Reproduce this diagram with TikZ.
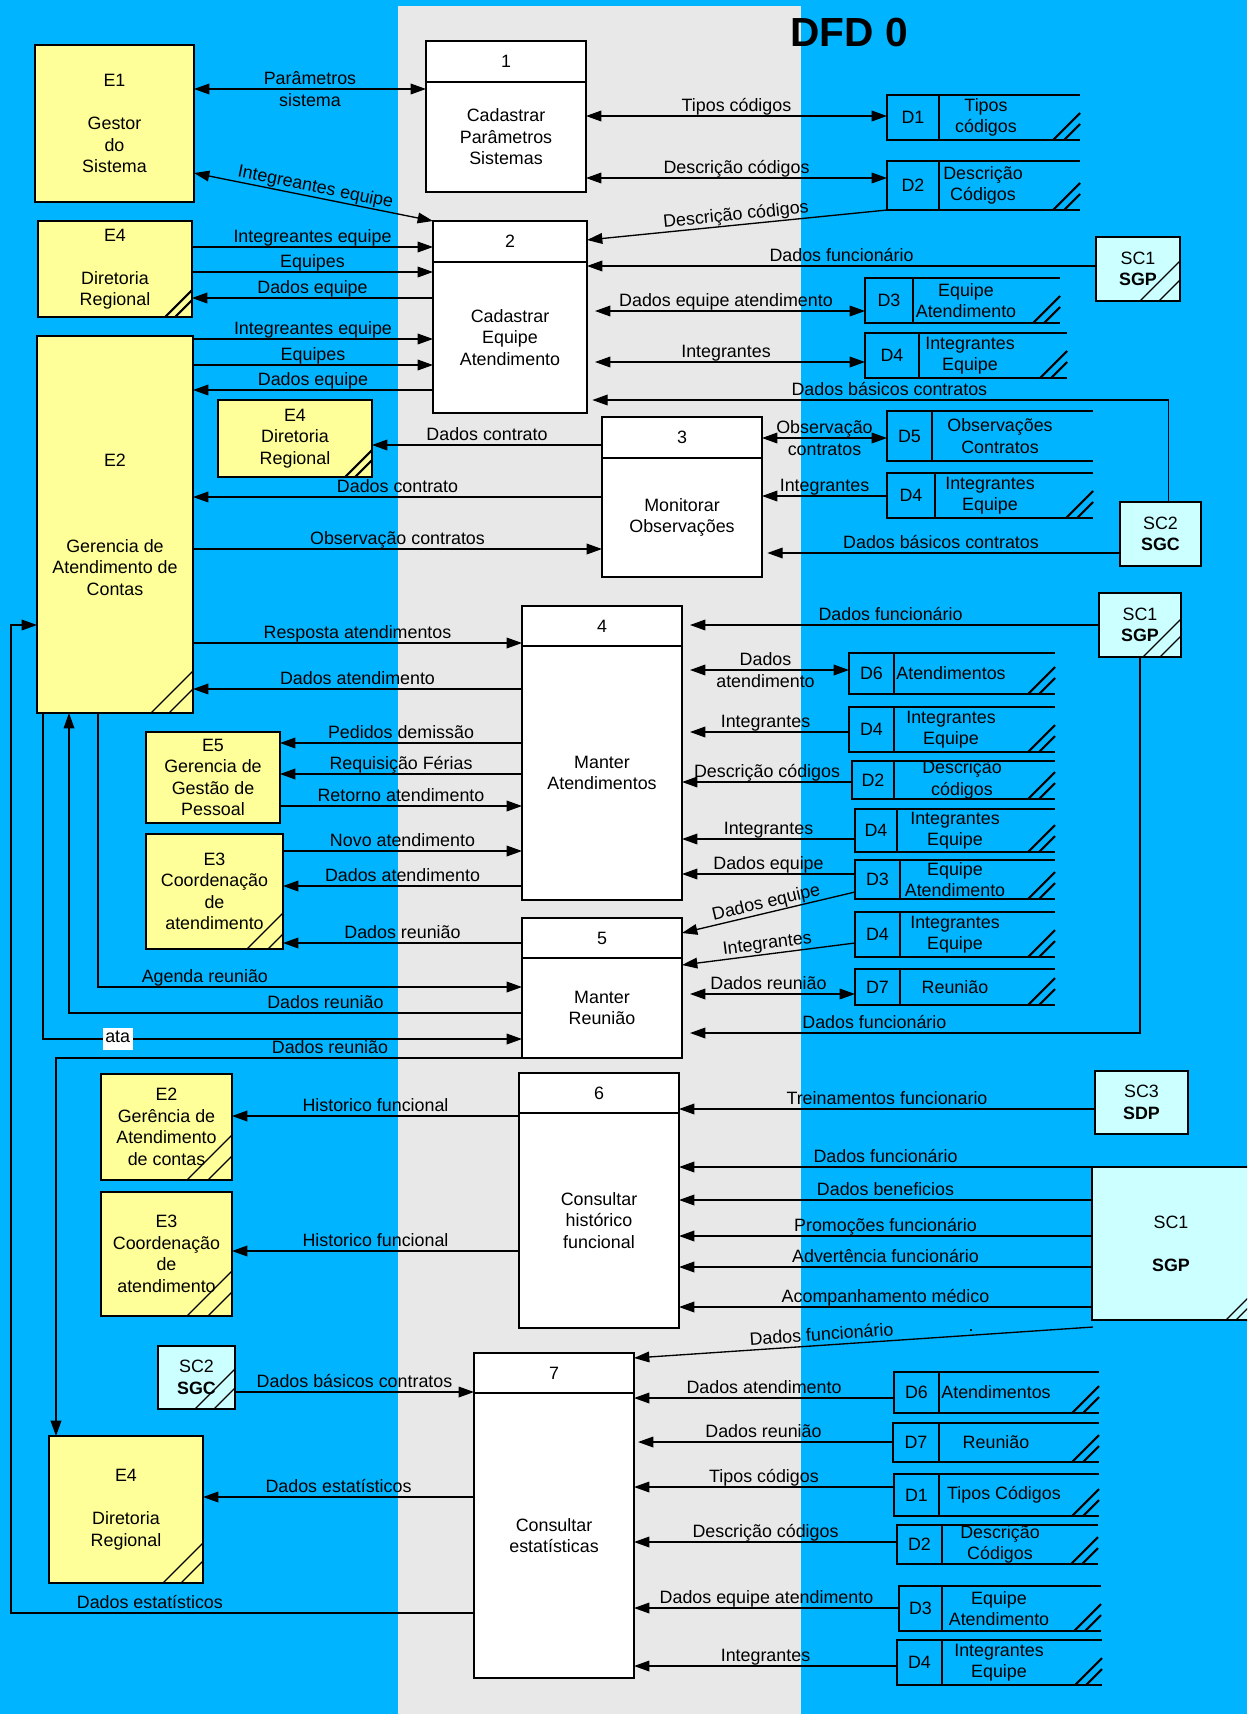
\documentclass[tikz,border=0pt]{standalone}
\usepackage{fontspec}
\setmainfont{Liberation Sans}
\usetikzlibrary{arrows.meta,calc}

\definecolor{bgblue}{RGB}{0,180,255}
\definecolor{bandgray}{RGB}{232,232,232}
\definecolor{entyellow}{RGB}{255,255,153}
\definecolor{extcyan}{RGB}{204,255,255}

\newcommand\dfdfont{\fontsize{13.4}{16.1}\selectfont}

% rectangle node from corner coordinates (picture units = px)
\newcommand\dfdbox[7]{%
  \pgfmathsetmacro\dfdw{(#5-#3)*0.75}%
  \pgfmathsetmacro\dfdh{(#6-#4)*0.75}%
  \node[#1, minimum width=\dfdw pt, minimum height=\dfdh pt] (#2) at ({(#3+#5)/2},{(#4+#6)/2}) {#7};}

% process: name x1 y1 ydiv x2 y2 number text
\newcommand\dfdproc[8]{%
  \dfdbox{proc}{#1}{#2}{#3}{#5}{#6}{}%
  \draw[line width=1.3pt] (#1.west |- 0,#4) -- (#1.east |- 0,#4);
  \node (#1-n) at ({(#2+#5)/2},{(#3+#4)/2}) {#7};
  \node[align=center] (#1-t) at ({(#2+#5)/2},{(#4+#6)/2}) {#8};}

% data store: name x1 y1 xdiv x2 y2 id textx text
\newcommand\dfdstore[9]{%
  \dfdbox{storecell}{#1}{#2}{#3}{#5}{#6}{}%
  \draw[line width=1.3pt] (#1.north east) -- (#1.north west) -- (#1.south west) -- (#1.south east);
  \draw[line width=2pt] (#4,#3) -- (#4,#6);
  \node (#1-id) at ({(#2+#4)/2},{(#3+#6)/2}) {#7};
  \node[align=center] (#1-tx) at (#8,{(#3+#6)/2}) {#9};}

% duplicate marks in the lower right corner
\newcommand\dfdhatch[4]{%
  \draw[line width=#4] ($(#1.south east)+(-#2,0)$) -- ($(#1.south east)+(0,-#2)$)
    ($(#1.south east)+(-#3,0)$) -- ($(#1.south east)+(0,-#3)$);}

\tikzset{
  bx/.style={draw, line width=1.3pt, inner sep=0pt, outer sep=0pt, align=center},
  ent/.style={bx, fill=entyellow},
  ext/.style={bx, fill=extcyan},
  proc/.style={bx, fill=white},
  storecell/.style={inner sep=0pt, outer sep=0pt},
  arr/.style={line width=1pt, -{Triangle[length=11.5pt,width=8pt]}},
  darr/.style={line width=1pt, {Triangle[length=11.5pt,width=8pt]}-{Triangle[length=11.5pt,width=8pt]}},
  lab/.style={inner sep=1pt, text height=0.72em, text depth=0.22em, anchor=south},
  lab2/.style={inner sep=0pt, align=center},
}

\begin{document}
\begin{tikzpicture}[x=0.75pt, y=-0.75pt, font=\dfdfont]
\useasboundingbox (0,0) rectangle (1247,1714);
\clip (0,0) rectangle (1247,1714);
\fill[bgblue] (0,0) rectangle (1247,1714);
\fill[bandgray] (398,6) rectangle (801,1714);

\node[font=\fontsize{30.5}{36}\selectfont\bfseries] (title) at (849,32) {DFD 0};

% ---- external entities
\dfdbox{ent}{e1}{35}{45}{194}{202}{E1\\\mbox{}\\Gestor\\do\\Sistema}
\dfdbox{ent}{e4a}{38}{221}{192}{317}{E4\\\mbox{}\\Diretoria\\Regional}
\dfdbox{ent}{e2a}{37}{336}{193}{713}{E2\\\mbox{}\\\mbox{}\\\mbox{}\\Gerencia de\\Atendimento de\\Contas}
\dfdbox{ent}{e4b}{218}{400}{372}{477}{E4\\Diretoria\\Regional}
\dfdbox{ent}{e5}{146}{732}{280}{823}{E5\\Gerencia de\\Gestão de\\Pessoal}
\dfdbox{ent}{e3a}{146}{834}{283}{949}{E3\\Coordenação\\de\\atendimento}
\dfdbox{ent}{e2b}{101}{1074}{232}{1180}{E2\\Gerência de\\Atendimento\\de contas}
\dfdbox{ent}{e3b}{101}{1192}{232}{1316}{E3\\Coordenação\\de\\atendimento}
\dfdbox{ent}{e4c}{49}{1436}{203}{1583}{E4\\\mbox{}\\Diretoria\\Regional}

\dfdbox{ext}{sc1a}{1096}{237}{1180}{301}{SC1\\\textbf{SGP}}
\dfdbox{ext}{sc2a}{1120}{502}{1201}{566}{SC2\\\textbf{SGC}}
\dfdbox{ext}{sc1b}{1099}{593}{1181}{657}{SC1\\\textbf{SGP}}
\dfdbox{ext}{sc3}{1095}{1071}{1188}{1134}{SC3\\\textbf{SDP}}
\dfdbox{ext}{sc1c}{1092}{1167}{1250}{1320}{SC1\\\mbox{}\\\textbf{SGP}}
\dfdbox{ext}{sc2b}{158}{1346}{235}{1409}{SC2\\\textbf{SGC}}

\dfdhatch{e4a}{27}{17}{1.6pt}
\dfdhatch{e4b}{27}{17}{1.6pt}
\dfdhatch{e2a}{42}{24}{1pt}
\dfdhatch{e3a}{36}{15}{1pt}
\dfdhatch{e2b}{45}{24}{1pt}
\dfdhatch{e3b}{45}{24}{1pt}
\dfdhatch{e4c}{40}{22}{1pt}
\dfdhatch{sc1a}{40}{21}{1pt}
\dfdhatch{sc1b}{38}{21}{1pt}
\dfdhatch{sc1c}{24}{14}{1pt}
\dfdhatch{sc2b}{40}{21}{1pt}

% ---- processes
\dfdproc{p1}{426}{41}{82}{586}{192}{1}{Cadastrar\\Parâmetros\\Sistemas}
\dfdproc{p2}{433}{221}{262}{587}{413}{2}{Cadastrar\\Equipe\\Atendimento}
\dfdproc{p3}{602}{417}{458}{762}{577}{3}{Monitorar\\Observações}
\dfdproc{p4}{522}{606}{646}{682}{900}{4}{Manter\\Atendimentos}
\dfdproc{p5}{522}{918}{958}{682}{1058}{5}{Manter\\Reunião}
\dfdproc{p6}{519}{1073}{1113}{679}{1328}{6}{Consultar\\histórico\\funcional}
\dfdproc{p7}{474}{1353}{1393}{634}{1678}{7}{Consultar\\estatísticas}

% ---- data stores
\dfdstore{d1a}{887}{95}{939}{1080}{140}{D1}{986}{Tipos\\códigos}
\dfdstore{d2a}{887}{161}{939}{1080}{210}{D2}{983}{Descrição\\Códigos}
\dfdstore{d3a}{865}{278}{913}{1060}{323}{D3}{966}{Equipe\\Atendimento}
\dfdstore{d4a}{865}{333}{919}{1067}{378}{D4}{970}{Integrantes\\Equipe}
\dfdstore{d5}{887}{411}{932}{1093}{461}{D5}{1000}{Observações\\Contratos}
\dfdstore{d4b}{887}{473}{935}{1093}{518}{D4}{990}{Integrantes\\Equipe}
\dfdstore{d6a}{849}{653}{894}{1055}{694}{D6}{951}{Atendimentos}
\dfdstore{d4c}{849}{707}{894}{1055}{752}{D4}{951}{Integrantes\\Equipe}
\dfdstore{d2b}{852}{761}{894}{1055}{799}{D2}{962}{Descrição\\códigos}
\dfdstore{d4d}{855}{809}{897}{1055}{852}{D4}{955}{Integrantes\\Equipe}
\dfdstore{d3b}{855}{860}{900}{1055}{899}{D3}{955}{Equipe\\Atendimento}
\dfdstore{d4e}{855}{912}{900}{1055}{957}{D4}{955}{Integrantes\\Equipe}
\dfdstore{d7a}{855}{969}{900}{1055}{1005}{D7}{955}{Reunião}
\dfdstore{d6b}{894}{1372}{939}{1099}{1413}{D6}{996}{Atendimentos}
\dfdstore{d7b}{893}{1423}{939}{1099}{1462}{D7}{996}{Reunião}
\dfdstore{d1b}{894}{1474}{939}{1099}{1516}{D1}{1004}{Tipos Códigos}
\dfdstore{d2c}{897}{1525}{942}{1098}{1564}{D2}{1000}{Descrição\\Códigos}
\dfdstore{d3c}{899}{1586}{942}{1101}{1631}{D3}{999}{Equipe\\Atendimento}
\dfdstore{d4f}{897}{1640}{942}{1102}{1685}{D4}{999}{Integrantes\\Equipe}

\foreach \s in {d1a,d2a,d3a,d4a,d4b,d6a,d4c,d2b,d4d,d3b,d4e,d7a,d6b,d7b,d1b,d2c,d3c,d4f}
  {\dfdhatch{\s}{27}{16}{1.6pt}}

% ---- flows: process 1 and 2
\draw[darr] (e1.east |- 0,89) -- node[lab2]{Parâmetros\\sistema} (p1.west |- 0,89);
\draw[darr] (e1.east |- 0,173) -- node[lab, sloped]{Integreantes equipe} (p2.north west);
\draw[arr] (e4a.east |- 0,247) -- node[lab]{Integreantes equipe} (p2.west |- 0,247);
\draw[arr] (e4a.east |- 0,272) -- node[lab]{Equipes} (p2.west |- 0,272);
\draw[arr] (p2.west |- 0,298) -- node[lab]{Dados equipe} (e4a.east |- 0,298);
\draw[arr] (e2a.east |- 0,339) -- node[lab]{Integreantes equipe} (p2.west |- 0,339);
\draw[arr] (e2a.east |- 0,365) -- node[lab]{Equipes} (p2.west |- 0,365);
\draw[arr] (p2.west |- 0,390) -- node[lab]{Dados equipe} (e2a.east |- 0,390);
\draw[darr] (p1.east |- 0,116) -- node[lab]{Tipos códigos} (d1a.west |- 0,116);
\draw[darr] (p1.east |- 0,178) -- node[lab]{Descrição códigos} (d2a.west |- 0,178);
\draw[arr] (d2a.south west) -- node[lab, sloped]{Descrição códigos} (p2.east |- 0,240);
\draw[arr] (sc1a.west |- 0,266) -- node[lab]{Dados funcionário} (p2.east |- 0,266);
\draw[darr, shorten <=6pt] (p2.east |- 0,311) -- node[lab]{Dados equipe atendimento} (d3a.west |- 0,311);
\draw[darr, shorten <=6pt] (p2.east |- 0,362) -- node[lab]{Integrantes} (d4a.west |- 0,362);
\draw[arr, shorten >=4pt] ($(sc2a.north)+(8,0)$) |- node[lab, pos=0.74]{Dados básicos contratos} (p2.east |- 0,400);

% ---- process 3
\draw[arr] (p3.west |- 0,445) -- node[lab]{Dados contrato} (e4b.east |- 0,445);
\draw[arr] (p3.west |- 0,497) -- node[lab]{Dados contrato} (e2a.east |- 0,497);
\draw[arr] (e2a.east |- 0,549) -- node[lab]{Observação contratos} (p3.west |- 0,549);
\draw[darr] (p3.east |- 0,438) -- node[lab2]{Observação\\contratos} (d5.west |- 0,438);
\draw[arr] (d4b.west |- 0,496) -- node[lab]{Integrantes} (p3.east |- 0,496);
\draw[arr, shorten >=4pt] (sc2a.west |- 0,553) -- node[lab]{Dados básicos contratos} (p3.east |- 0,553);

% ---- process 4
\draw[arr] (e2a.east |- 0,643) -- node[lab]{Resposta atendimentos} (p4.west |- 0,643);
\draw[arr] (p4.west |- 0,689) -- node[lab]{Dados atendimento} (e2a.east |- 0,689);
\draw[arr] (p4.west |- 0,743) -- node[lab]{Pedidos demissão} (e5.east |- 0,743);
\draw[arr] (p4.west |- 0,774) -- node[lab]{Requisição Férias} (e5.east |- 0,774);
\draw[arr] (e5.east |- 0,806) -- node[lab]{Retorno atendimento} (p4.west |- 0,806);
\draw[arr] (e3a.east |- 0,851) -- node[lab]{Novo atendimento} (p4.west |- 0,851);
\draw[arr] (p4.west |- 0,886) -- node[lab]{Dados atendimento} (e3a.east |- 0,886);
\draw[arr, shorten >=6pt] (sc1b.west |- 0,625) -- node[lab]{Dados funcionário} (p4.east |- 0,625);
\draw[darr, shorten <=6pt] (p4.east |- 0,670) -- node[lab2]{Dados\\atendimento} (d6a.west |- 0,670);
\draw[arr, shorten >=6pt] (d4c.west |- 0,732) -- node[lab]{Integrantes} (p4.east |- 0,732);
\draw[arr] (d2b.west |- 0,782) -- node[lab]{Descrição códigos} (p4.east |- 0,782);
\draw[arr] (d4d.west |- 0,839) -- node[lab]{Integrantes} (p4.east |- 0,839);
\draw[arr] (d3b.west |- 0,874) -- node[lab]{Dados equipe} (p4.east |- 0,874);

% ---- process 5
\draw[arr] (p5.west |- 0,943) -- node[lab]{Dados reunião} (e3a.east |- 0,943);
\draw[arr] (e2a.south -| 98,0) |- node[lab, pos=0.626]{Agenda reunião} (p5.west |- 0,987);
\draw[arr] (p5.west |- 0,1013) -| node[lab, pos=0.217]{Dados reunião} (e2a.south -| 69,0);
\draw[arr] (e2a.south -| 43,0) |- node[fill=white, inner xsep=2pt, inner ysep=3.5pt, text height=0.72em, text depth=0.22em, pos=0.578]{ata} (p5.west |- 0,1039);
\draw[arr] (p5.south west) -| node[lab, pos=0.206]{Dados reunião} (e4c.north -| 56,0);
\draw[arr] (d3b.west |- 0,892) -- node[lab, sloped]{Dados equipe} (p5.east |- 0,933);
\draw[arr] (d4e.west |- 0,943) -- node[lab, sloped]{Integrantes} (p5.east |- 0,965);
\draw[darr, shorten <=6pt] (p5.east |- 0,994) -- node[lab]{Dados reunião} (d7a.west |- 0,994);
\draw[arr, shorten >=6pt] (sc1b.south) |- node[lab, pos=0.79]{Dados funcionário} (p5.east |- 0,1033);

% ---- process 6
\draw[arr] (p6.west |- 0,1116) -- node[lab]{Historico funcional} (e2b.east |- 0,1116);
\draw[arr] (p6.west |- 0,1251) -- node[lab]{Historico funcional} (e3b.east |- 0,1251);
\draw[arr] (sc3.west |- 0,1109) -- node[lab]{Treinamentos funcionario} (p6.east |- 0,1109);
\draw[arr] (sc1c.north west) -- node[lab]{Dados funcionário} (p6.east |- sc1c.north west);
\draw[arr] (sc1c.west |- 0,1200) -- node[lab]{Dados beneficios} (p6.east |- 0,1200);
\draw[arr] (sc1c.west |- 0,1236) -- node[lab]{Promoções funcionário} (p6.east |- 0,1236);
\draw[arr] (sc1c.west |- 0,1267) -- node[lab]{Advertência funcionário} (p6.east |- 0,1267);
\draw[arr] (sc1c.west |- 0,1307) -- node[lab]{Acompanhamento médico} (p6.east |- 0,1307);

% ---- process 7
\draw[arr] ($(sc1c.south west)+(1,7)$) -- node[lab, sloped, pos=0.59]{Dados funcionário} (p7.east |- 0,1358);
\node[anchor=base] (dot) at (971,1331) {.};
\draw[arr] (sc2b.east |- 0,1392) -- node[lab]{Dados básicos contratos} (p7.west |- 0,1392);
\draw[arr] (p7.west |- 0,1497) -- node[lab]{Dados estatísticos} (e4c.east |- 0,1497);
\draw[arr] (p7.west |- 0,1613) -- node[lab, pos=0.7]{Dados estatísticos} (11,1613) -- (11,625) -- (e2a.west |- 0,625);
\draw[arr] (d6b.west |- 0,1398) -- node[lab]{Dados atendimento} (p7.east |- 0,1398);
\draw[arr, shorten >=3pt] (d7b.west |- 0,1442) -- node[lab]{Dados reunião} (p7.east |- 0,1442);
\draw[arr] (d1b.west |- 0,1487) -- node[lab]{Tipos códigos} (p7.east |- 0,1487);
\draw[arr] (d2c.west |- 0,1542) -- node[lab]{Descrição códigos} (p7.east |- 0,1542);
\draw[arr] (d3c.west |- 0,1608) -- node[lab]{Dados equipe atendimento} (p7.east |- 0,1608);
\draw[arr] (d4f.west |- 0,1666) -- node[lab]{Integrantes} (p7.east |- 0,1666);
\end{tikzpicture}
\end{document}
